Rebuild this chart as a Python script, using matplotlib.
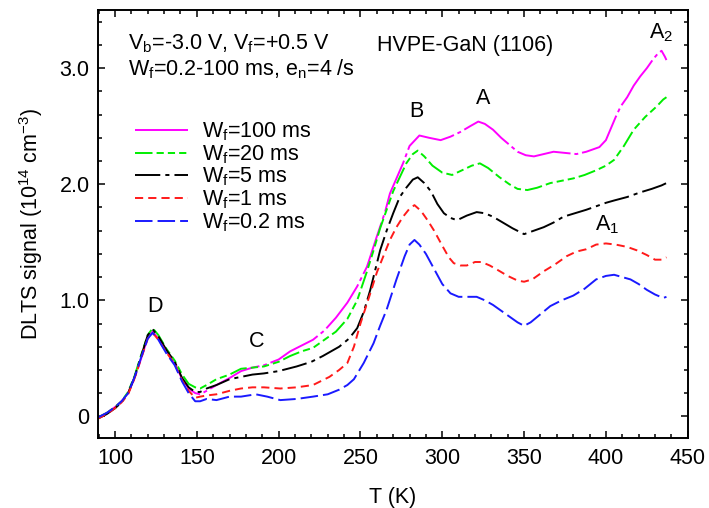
import matplotlib
matplotlib.use("Agg")
import matplotlib.pyplot as plt
from matplotlib.ticker import MultipleLocator, FixedLocator, FixedFormatter

# ------- données (T en K, signal en 1e14 cm^-3) -------

t_100 = [89.5, 95, 100, 104, 108, 112, 116, 120, 123, 126.5, 131.5, 136.5, 141, 145, 149,
         152, 156, 162, 170, 177, 184, 191, 200, 207, 214, 221, 228, 235, 242, 248, 254,
         260, 265, 268, 272, 276, 280, 286, 292, 299, 305, 311, 317, 322, 326, 331, 336,
         341, 346, 351, 356, 362, 368, 375, 382, 388, 396, 400, 403, 406, 409, 413, 417,
         421, 425, 429, 432, 434, 436, 437]
s_100 = [-0.01, 0.03, 0.08, 0.13, 0.20, 0.33, 0.50, 0.68, 0.73, 0.67, 0.56, 0.46, 0.32, 0.24, 0.20,
         0.19, 0.22, 0.27, 0.33, 0.39, 0.42, 0.44, 0.49, 0.56, 0.61, 0.66, 0.74, 0.85, 0.98, 1.12, 1.29,
         1.55, 1.76, 1.92, 2.05, 2.18, 2.33, 2.42, 2.40, 2.38, 2.41, 2.45, 2.50, 2.54, 2.52, 2.47, 2.40,
         2.34, 2.28, 2.25, 2.24, 2.26, 2.28, 2.27, 2.26, 2.28, 2.32, 2.38, 2.48, 2.58, 2.67, 2.75, 2.85,
         2.93, 3.00, 3.08, 3.13, 3.15, 3.10, 3.07]

t_20 = [89.5, 95, 100, 104, 108, 112, 116, 120, 123, 126.5, 131.5, 136.5, 141, 145, 149,
        152, 156, 162, 170, 177, 184, 191, 200, 207, 214, 221, 228, 235, 242, 248, 254,
        258, 262, 266, 270, 274, 278, 282, 285, 289, 294, 300, 306, 312, 318, 323, 328,
        335, 341, 346, 352, 358, 366, 373, 380, 387, 394, 400, 405, 411, 417, 424, 431, 435, 437]
s_20 = [-0.01, 0.03, 0.08, 0.13, 0.21, 0.35, 0.53, 0.70, 0.76, 0.70, 0.58, 0.48, 0.36, 0.28, 0.25,
        0.24, 0.27, 0.32, 0.36, 0.41, 0.42, 0.43, 0.47, 0.52, 0.56, 0.59, 0.66, 0.73, 0.84, 1.00, 1.25,
        1.43, 1.62, 1.78, 1.94, 2.06, 2.18, 2.26, 2.29, 2.24, 2.16, 2.10, 2.08, 2.12, 2.16, 2.18, 2.14,
        2.06, 2.00, 1.96, 1.95, 1.97, 2.01, 2.03, 2.05, 2.08, 2.12, 2.16, 2.21, 2.33, 2.47, 2.58, 2.67, 2.73, 2.75]

t_5 = [89.5, 95, 100, 104, 108, 112, 116, 120, 123, 126.5, 131.5, 136.5, 141, 145, 149,
       152, 156, 162, 170, 177, 184, 191, 200, 211, 220, 227, 237, 243, 248, 252, 256,
       262, 266, 270, 274, 278, 282, 285, 289, 293, 297, 301, 305, 309, 315, 321, 326,
       331, 337, 343, 350, 356, 362, 368, 374, 381, 388, 394, 400, 405, 413, 421, 428, 434, 437]
s_5 = [-0.02, 0.02, 0.07, 0.12, 0.20, 0.34, 0.52, 0.70, 0.75, 0.69, 0.57, 0.47, 0.33, 0.25, 0.21,
       0.21, 0.24, 0.27, 0.32, 0.34, 0.36, 0.37, 0.39, 0.43, 0.47, 0.52, 0.60, 0.67, 0.76, 0.90, 1.09,
       1.43, 1.60, 1.75, 1.89, 1.97, 2.04, 2.06, 2.01, 1.94, 1.83, 1.75, 1.71, 1.69, 1.73, 1.76, 1.75,
       1.72, 1.67, 1.62, 1.57, 1.60, 1.63, 1.67, 1.72, 1.75, 1.78, 1.81, 1.84, 1.86, 1.89, 1.93, 1.96, 1.99, 2.01]

t_1 = [89.5, 95, 100, 104, 108, 112, 116, 120, 123, 126.5, 131.5, 136.5, 141, 145, 149,
       152, 156, 162, 170, 177, 184, 191, 201, 211, 221, 231, 237, 242, 246, 250, 256,
       260, 264, 268, 272, 276, 280, 283, 287, 291, 295, 300, 304, 307, 311, 315, 320,
       324, 329, 334, 340, 346, 350, 355, 362, 369, 376, 382, 388, 394, 400, 406, 413,
       419, 425, 430, 434, 437]
s_1 = [-0.02, 0.02, 0.07, 0.12, 0.19, 0.33, 0.50, 0.67, 0.72, 0.66, 0.55, 0.45, 0.31, 0.22, 0.16,
       0.17, 0.18, 0.19, 0.22, 0.24, 0.25, 0.25, 0.24, 0.25, 0.27, 0.34, 0.40, 0.46, 0.60, 0.80, 1.06,
       1.24, 1.38, 1.52, 1.63, 1.72, 1.79, 1.82, 1.77, 1.69, 1.60, 1.47, 1.37, 1.32, 1.30, 1.30, 1.33,
       1.33, 1.30, 1.26, 1.21, 1.17, 1.16, 1.18, 1.25, 1.31, 1.38, 1.42, 1.44, 1.48, 1.49, 1.48, 1.46,
       1.43, 1.39, 1.35, 1.35, 1.37]

t_02 = [89.5, 95, 100, 104, 108, 112, 116, 120, 123, 126.5, 131.5, 136.5, 141, 145, 149,
        152, 156, 162, 170, 177, 186, 193, 201, 211, 221, 230, 237, 242, 246, 252, 258,
        262, 266, 272, 277, 280, 283, 286, 290, 295, 300, 305, 310, 316, 321, 326, 331,
        336, 341, 346, 350, 354, 360, 366, 373, 380, 387, 394, 400, 405, 410, 415, 420,
        425, 430, 435, 437]
s_02 = [-0.01, 0.03, 0.08, 0.13, 0.20, 0.34, 0.51, 0.67, 0.72, 0.66, 0.54, 0.44, 0.30, 0.20, 0.13,
        0.13, 0.15, 0.14, 0.17, 0.17, 0.19, 0.17, 0.14, 0.15, 0.17, 0.19, 0.23, 0.27, 0.32, 0.46, 0.63,
        0.78, 0.92, 1.18, 1.38, 1.48, 1.52, 1.48, 1.40, 1.27, 1.14, 1.06, 1.03, 1.03, 1.03, 1.00, 0.96,
        0.91, 0.86, 0.81, 0.78, 0.81, 0.88, 0.95, 1.00, 1.04, 1.10, 1.18, 1.21, 1.22, 1.20, 1.18, 1.14,
        1.09, 1.05, 1.02, 1.03]

labels = [r"W$_{\rm f}$=100 ms", r"W$_{\rm f}$=20 ms", r"W$_{\rm f}$=5 ms",
          r"W$_{\rm f}$=1 ms", r"W$_{\rm f}$=0.2 ms"]
colors = ["#ff00ff", "#00ee00", "#000000", "#ff1a1a", "#1a1aff"]
styles = [(0, (28, 2.0, 2.0, 2.0)),
          (0, (9, 2.1, 3.7, 2.1, 3.7, 2.1, 3.7, 2.1)),
          (0, (13, 2.6, 2.1, 2.6)),
          (0, (4.2, 2.6)),
          (0, (9, 2.6))]

# ------- style ----------------------------------------
plt.rcParams['font.family'] = ['Liberation Sans', 'DejaVu Sans']
plt.rcParams['mathtext.fontset'] = 'custom'
plt.rcParams['mathtext.rm'] = 'Liberation Sans'
plt.rcParams['mathtext.it'] = 'Liberation Sans:italic'
plt.rcParams['font.size'] = 15.5

fig = plt.figure(figsize=(7.09, 5.08), dpi=100)
ax = fig.add_axes([0.138, 0.137, 0.832, 0.843])

series = [(t_100, s_100), (t_20, s_20), (t_5, s_5), (t_1, s_1), (t_02, s_02)]
for (t, s), lab, col, ls in zip(series, labels, colors, styles):
    ax.plot(t, s, color=col, linestyle=ls, linewidth=1.4, label=lab)

ax.set_xlim(89.5, 450)
ax.set_ylim(-0.19, 3.5)
ax.xaxis.set_major_locator(MultipleLocator(50))
ax.xaxis.set_minor_locator(MultipleLocator(10))
ax.yaxis.set_major_locator(FixedLocator([0, 1, 2, 3]))
ax.yaxis.set_major_formatter(FixedFormatter(["0", "1.0", "2.0", "3.0"]))
ax.yaxis.set_minor_locator(MultipleLocator(0.2))
ax.tick_params(which='both', direction='in', top=True, right=True, width=1.1)
ax.tick_params(which='major', length=5, labelsize=15.5)
ax.tick_params(axis='x', which='major', pad=7)
ax.tick_params(axis='y', which='major', pad=6)
ax.tick_params(which='minor', length=3)
for sp in ax.spines.values():
    sp.set_linewidth(1.4)

ax.set_xlabel("T (K)", fontsize=15.5, labelpad=13)
ax.set_ylabel(r"DLTS signal (10$^{14}$ cm$^{-3}$)", fontsize=15.5, labelpad=10)

# textes
ax.text(107.9, 3.16, r"V$_{\rm b}$=-3.0 V, V$_{\rm f}$=+0.5 V", fontsize=15.5, va='baseline')
ax.text(107.9, 2.94, r"W$_{\rm f}$=0.2-100 ms, e$_{\rm n}$=4 /s", fontsize=15.5, va='baseline')
ax.text(260.1, 3.15, "HVPE-GaN (1106)", fontsize=15.5, va='baseline')

ax.text(124.4, 0.90, "D", fontsize=15.5, ha='center', va='baseline')
ax.text(186.6, 0.595, "C", fontsize=15.5, ha='center', va='baseline')
ax.text(284.4, 2.58, "B", fontsize=15.5, ha='center', va='baseline')
ax.text(325.1, 2.69, "A", fontsize=15.5, ha='center', va='baseline')
ax.text(393.4, 1.60, r"A$_1$", fontsize=15.5, va='baseline')
ax.text(426.4, 3.26, r"A$_2$", fontsize=15.5, va='baseline')

ax.legend(loc='upper left', bbox_to_anchor=(0.063, 0.742), frameon=False,
          handlelength=2.45, handletextpad=0.65, labelspacing=0.0,
          borderpad=0, borderaxespad=0, fontsize=15.5)

fig.savefig("out.png", dpi=100)
